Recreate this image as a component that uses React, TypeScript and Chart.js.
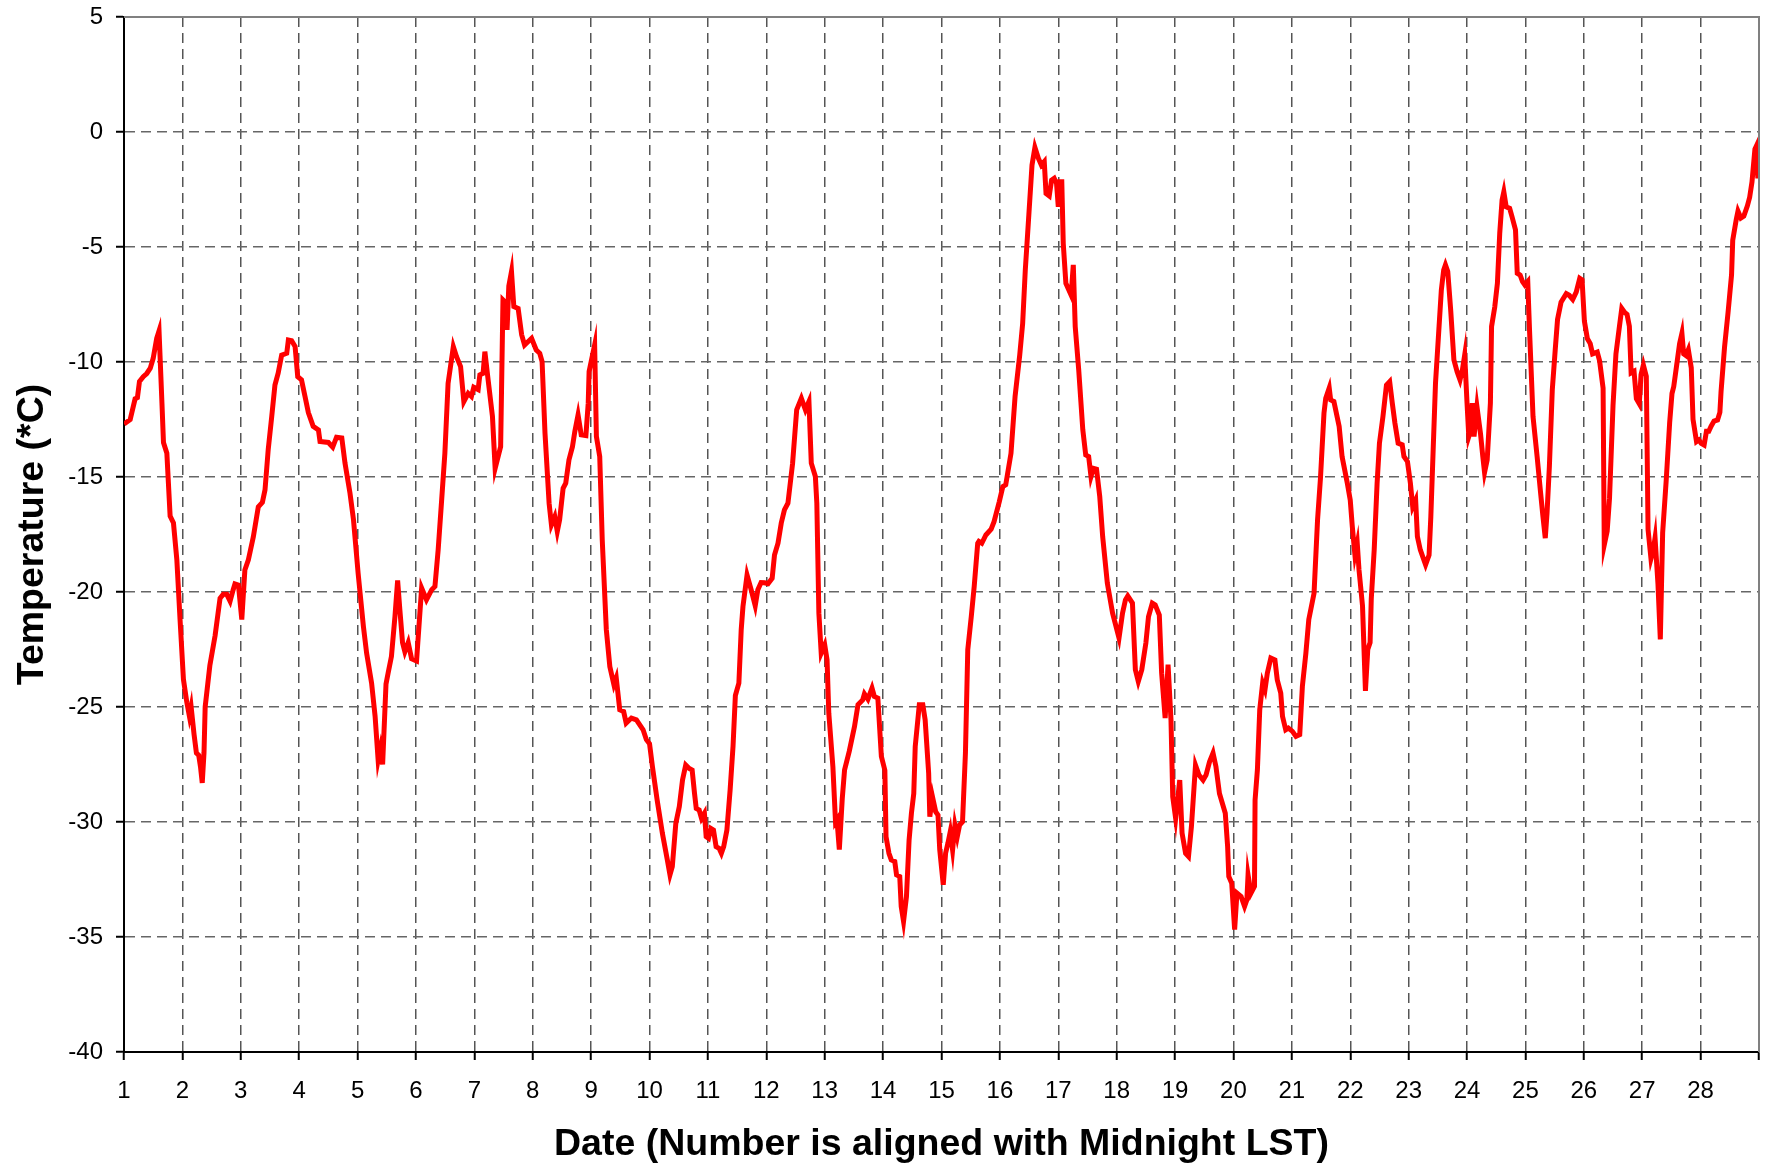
import React, { useEffect, useRef } from "react";
import { Chart, registerables } from "chart.js";

Chart.register(...registerables);

const days: number[] = [
  1.0, 1.106, 1.19, 1.23, 1.265, 1.33, 1.39, 1.45, 1.5, 1.56, 1.6, 1.65, 1.676, 1.734, 1.79, 1.847, 1.905, 1.96,
  2.018, 2.076, 2.12, 2.15, 2.2, 2.24, 2.28, 2.31, 2.34, 2.37, 2.39, 2.47, 2.56, 2.645, 2.7, 2.76, 2.817, 2.87,
  2.9, 2.96, 3.017, 3.07, 3.13, 3.215, 3.3, 3.37, 3.415, 3.47, 3.53, 3.585, 3.64, 3.7, 3.787, 3.815, 3.87, 3.93,
  3.975, 4.04, 4.1, 4.157, 4.24, 4.33, 4.357, 4.5, 4.574, 4.64, 4.73, 4.785, 4.87, 4.93, 5.01, 5.1, 5.155, 5.24,
  5.3, 5.352, 5.391, 5.429, 5.487, 5.525, 5.58, 5.64, 5.686, 5.725, 5.77, 5.81, 5.867, 5.925, 6.01, 6.097, 6.18,
  6.27, 6.325, 6.38, 6.44, 6.495, 6.55, 6.64, 6.695, 6.764, 6.82, 6.894, 6.95, 6.99, 7.065, 7.094, 7.15, 7.18,
  7.236, 7.31, 7.356, 7.45, 7.49, 7.55, 7.56, 7.59, 7.636, 7.676, 7.75, 7.81, 7.86, 7.98, 8.06, 8.12, 8.16, 8.21,
  8.28, 8.32, 8.377, 8.42, 8.46, 8.52, 8.565, 8.62, 8.68, 8.72, 8.776, 8.83, 8.91, 8.95, 8.965, 9.06, 9.09, 9.147,
  9.19, 9.26, 9.32, 9.39, 9.43, 9.49, 9.557, 9.6, 9.69, 9.775, 9.83, 9.89, 9.946, 10.0, 10.05, 10.13, 10.22,
  10.305, 10.35, 10.39, 10.45, 10.51, 10.565, 10.62, 10.68, 10.73, 10.77, 10.8, 10.85, 10.89, 10.94, 10.97, 11.01,
  11.05, 11.095, 11.14, 11.19, 11.23, 11.27, 11.325, 11.38, 11.43, 11.47, 11.53, 11.57, 11.6, 11.67, 11.74, 11.81,
  11.855, 11.91, 11.97, 12.03, 12.1, 12.14, 12.2, 12.256, 12.31, 12.37, 12.45, 12.52, 12.6, 12.67, 12.73, 12.77,
  12.84, 12.865, 12.9, 12.94, 13.0, 13.04, 13.07, 13.14, 13.185, 13.21, 13.25, 13.3, 13.34, 13.42, 13.51, 13.57,
  13.65, 13.68, 13.74, 13.81, 13.85, 13.91, 13.97, 14.03, 14.05, 14.1, 14.14, 14.2, 14.23, 14.285, 14.31, 14.35,
  14.4, 14.445, 14.485, 14.525, 14.55, 14.62, 14.68, 14.72, 14.78, 14.8, 14.845, 14.9, 14.94, 14.97, 15.03, 15.07,
  15.11, 15.15, 15.19, 15.23, 15.27, 15.31, 15.36, 15.41, 15.45, 15.51, 15.56, 15.62, 15.64, 15.69, 15.76, 15.85,
  15.9, 15.99, 16.05, 16.1, 16.19, 16.26, 16.34, 16.39, 16.435, 16.49, 16.55, 16.6, 16.66, 16.71, 16.76, 16.79,
  16.845, 16.885, 16.93, 16.97, 17.0, 17.03, 17.06, 17.085, 17.13, 17.22, 17.257, 17.29, 17.35, 17.42, 17.47,
  17.52, 17.56, 17.6, 17.655, 17.71, 17.76, 17.84, 17.93, 18.04, 18.1, 18.15, 18.19, 18.27, 18.32, 18.37, 18.43,
  18.5, 18.545, 18.61, 18.66, 18.73, 18.77, 18.83, 18.88, 18.93, 18.96, 19.01, 19.08, 19.12, 19.18, 19.23, 19.28,
  19.35, 19.41, 19.48, 19.53, 19.59, 19.65, 19.7, 19.76, 19.86, 19.9, 19.92, 19.97, 20.02, 20.06, 20.13, 20.19,
  20.23, 20.25, 20.3, 20.36, 20.37, 20.41, 20.45, 20.5, 20.54, 20.58, 20.64, 20.71, 20.75, 20.81, 20.84, 20.895,
  20.94, 21.01, 21.07, 21.135, 21.18, 21.24, 21.29, 21.38, 21.44, 21.49, 21.55, 21.58, 21.64, 21.665, 21.72, 21.81,
  21.86, 21.95, 22.0, 22.035, 22.08, 22.12, 22.15, 22.21, 22.26, 22.3, 22.34, 22.36, 22.41, 22.46, 22.5, 22.56,
  22.62, 22.675, 22.72, 22.765, 22.82, 22.89, 22.92, 22.98, 23.03, 23.07, 23.12, 23.15, 23.2, 23.29, 23.35, 23.38,
  23.42, 23.46, 23.51, 23.56, 23.6, 23.63, 23.67, 23.72, 23.775, 23.83, 23.88, 23.92, 23.96, 24.0, 24.03, 24.06,
  24.09, 24.12, 24.17, 24.23, 24.27, 24.3, 24.345, 24.4, 24.42, 24.475, 24.52, 24.56, 24.6, 24.63, 24.67, 24.73,
  24.77, 24.83, 24.86, 24.91, 24.95, 24.99, 25.04, 25.07, 25.13, 25.2, 25.26, 25.3, 25.34, 25.37, 25.41, 25.46,
  25.51, 25.55, 25.61, 25.7, 25.75, 25.81, 25.87, 25.93, 25.97, 26.01, 26.06, 26.11, 26.15, 26.23, 26.27, 26.33,
  26.35, 26.4, 26.44, 26.5, 26.55, 26.61, 26.65, 26.7, 26.74, 26.78, 26.81, 26.86, 26.9, 26.95, 26.98, 27.02,
  27.07, 27.1, 27.15, 27.19, 27.22, 27.27, 27.31, 27.35, 27.41, 27.47, 27.51, 27.54, 27.6, 27.64, 27.68, 27.71,
  27.75, 27.79, 27.84, 27.87, 27.93, 27.97, 28.01, 28.06, 28.1, 28.14, 28.18, 28.23, 28.29, 28.33, 28.35, 28.41,
  28.47, 28.53, 28.55, 28.61, 28.64, 28.69, 28.74, 28.8, 28.84, 28.88, 28.93, 28.95, 28.98,
];

const temperatures: number[] = [
  -12.7, -12.5, -11.6, -11.55, -10.85, -10.64, -10.5, -10.27, -9.84, -8.97, -8.65, -11.8, -13.5, -13.97, -16.7, -17.0, -18.6, -21.2,
  -23.8, -24.8, -25.4, -25.0, -26.2, -27.0, -27.1, -27.6, -28.3, -27.0, -25.0, -23.2, -21.9, -20.27, -20.1, -20.1, -20.4, -19.9,
  -19.65, -19.7, -21.2, -19.04, -18.6, -17.6, -16.3, -16.1, -15.56, -13.8, -12.37, -11.0, -10.49, -9.7, -9.62, -9.04, -9.07, -9.33,
  -10.64, -10.78, -11.5, -12.2, -12.8, -12.95, -13.46, -13.5, -13.7, -13.27, -13.3, -14.4, -15.7, -16.86, -19.2, -21.5, -22.66, -23.96,
  -25.4, -27.3, -26.8, -27.5, -24.0, -23.5, -22.8, -21.07, -19.5, -20.8, -22.2, -22.6, -22.2, -22.9, -23.0, -19.83, -20.34,
  -19.9, -19.76, -18.17, -16.0, -13.97, -10.93, -9.33, -9.77, -10.2, -11.72, -11.36, -11.5, -11.1, -11.2, -10.56, -10.49, -9.55,
  -10.78, -12.37, -14.62, -13.68, -7.3, -7.45, -8.6, -6.7, -6.07, -7.59, -7.67, -8.82, -9.26, -8.97, -9.48, -9.62, -9.98, -13.1,
  -16.14, -17.08, -16.72, -17.37, -16.86, -15.49, -15.27, -14.26, -13.68, -13.03, -12.3, -13.17, -13.2, -11.79, -10.42, -9.26, -13.24, -14.11,
  -17.73, -21.64, -23.24, -24.03, -23.74, -25.12, -25.2, -25.7, -25.48, -25.56, -25.77, -25.99, -26.42, -26.6, -27.6, -29.04, -30.49,
  -31.65, -32.3, -31.94, -30.06, -29.33, -28.17, -27.52, -27.67, -27.74, -28.75, -29.41, -29.48, -29.84, -29.62, -30.64, -30.71,
  -30.28, -30.35, -31.07, -31.14, -31.36, -31.07, -30.35, -28.61, -26.7, -24.5, -23.96, -21.64, -20.63, -19.26, -19.9, -20.6,
  -19.9, -19.59, -19.6, -19.64, -19.4, -18.39, -17.88, -17.0, -16.43, -16.14, -14.4, -12.08, -11.58, -12.08, -11.72, -14.4,
  -14.98, -16.14, -20.92, -22.66, -22.3, -22.95, -25.27, -27.59, -30.0, -29.9, -31.2, -29.0, -27.73, -26.93, -25.85, -24.9,
  -24.69, -24.43, -24.66, -24.18, -24.54, -24.61, -27.15, -27.75, -30.64, -31.36, -31.65, -31.72, -32.3, -32.37, -33.67, -34.32,
  -33.24, -30.78, -29.62, -28.76, -26.72, -24.9, -24.9, -25.56, -27.87, -29.77, -28.9, -29.55, -29.7, -31.21, -32.73, -31.36,
  -30.92, -30.42, -31.21, -30.13, -30.64, -30.13, -29.99, -27.0, -22.51, -21.07, -19.76, -17.88, -17.8, -17.88, -17.52, -17.27,
  -16.94, -16.07, -15.42, -15.34, -13.97, -11.5, -9.69, -8.32, -6.0, -3.83, -1.44, -0.67, -1.15, -1.44, -1.29, -2.67,
  -2.78, -2.09, -2.01, -2.23, -3.25, -2.16, -2.16, -4.84, -6.58, -7.09, -5.78, -8.46, -10.35, -12.95, -14.04,
  -14.11, -14.98, -14.62, -14.66, -15.85, -17.59, -19.62, -20.92, -22.0, -20.92, -20.34, -20.17, -20.48, -23.38, -23.89, -23.38,
  -22.22, -21.07, -20.48, -20.56, -21.0, -23.53, -25.48, -23.16, -25.56, -28.9, -29.84, -28.18, -30.49, -31.36, -31.5, -30.2,
  -27.53, -27.96, -28.18, -27.96, -27.38, -27.0, -27.59, -28.76, -29.62, -31.07, -32.37, -32.66, -34.68, -33.09, -33.24, -33.67,
  -33.38, -32.3, -33.09, -32.8, -29.05, -27.73, -25.12, -23.96, -24.25, -23.53, -22.87, -22.95, -23.82, -24.4, -25.41, -25.99,
  -25.92, -26.06, -26.28, -26.2, -24.11, -22.66, -21.2, -20.05, -16.86, -15.05, -12.23, -11.58, -11.13, -11.65, -11.72, -12.8,
  -14.11, -15.27, -16.0, -17.15, -18.39, -17.88, -19.04, -20.6, -24.3, -22.5, -22.2, -20.3, -18.17, -15.27, -13.53, -12.37,
  -11.0, -10.85, -11.79, -12.66, -13.53, -13.6, -14.11, -14.33, -15.27, -16.29, -16.0, -17.59, -18.17, -18.82, -18.39, -16.72,
  -13.82, -10.92, -8.9, -6.87, -6.0, -5.78, -6.07, -7.74, -9.91, -10.42, -10.78, -10.35, -9.69, -11.79, -13.24, -13.0,
  -11.79, -13.24, -11.94, -13.1, -14.11, -14.8, -14.26, -11.79, -8.46, -7.6, -6.58, -4.4, -2.96, -2.6, -3.25, -3.32,
  -3.68, -4.26, -6.14, -6.22, -6.5, -6.65, -6.5, -8.6, -12.37, -14.11, -15.7, -16.72, -17.66, -16.57, -14.55, -11.21,
  -9.48, -8.15, -7.4, -7.03, -7.1, -7.28, -6.96, -6.36, -6.43, -8.23, -8.98, -9.2, -9.65, -9.57, -9.95, -11.14,
  -17.95, -17.35, -15.93, -11.89, -9.65, -8.45, -7.67, -7.85, -7.93, -8.45, -10.47, -10.4, -11.6, -11.82, -10.55, -10.13,
  -10.62, -17.28, -18.55, -18.17, -17.65, -19.67, -22.06, -17.43, -15.18, -12.64, -11.37, -11.07, -9.95, -9.2, -8.75, -9.65,
  -9.72, -9.47, -10.25, -12.49, -13.46, -13.39, -13.54, -13.61, -13.01, -13.01, -12.79, -12.57, -12.52, -12.19, -11.29, -9.35,
  -7.85, -6.21, -4.71, -3.81, -3.44, -3.74, -3.66, -3.22, -2.84, -2.17, -0.75, -0.64, -2.02,
];

const yTicks: number[] = [5, 0, -5, -10, -15, -20, -25, -30, -35, -40];
const xTickLabels: string[] = [
  "1", "2", "3", "4", "5", "6", "7", "8", "9", "10", "11", "12", "13", "14",
  "15", "16", "17", "18", "19", "20", "21", "22", "23", "24", "25", "26", "27", "28",
];

const yTitle = "Temperature (*C)";
const xTitle = "Date (Number is aligned with Midnight LST)";

const FONT = "'Liberation Sans', Arial, Helvetica, sans-serif";

const frameBorder = {
  id: "frameBorder",
  afterDatasetsDraw(chart: any) {
    const { ctx, chartArea } = chart;
    ctx.save();
    ctx.strokeStyle = "#808080";
    ctx.lineWidth = 2;
    ctx.beginPath();
    ctx.moveTo(chartArea.left, chartArea.top);
    ctx.lineTo(chartArea.right, chartArea.top);
    ctx.lineTo(chartArea.right, chartArea.bottom);
    ctx.stroke();
    ctx.restore();
  },
};

export default function App() {
  const ref = useRef<HTMLCanvasElement | null>(null);

  useEffect(() => {
    if (!ref.current) return;
    const points = days.map((d, i) => ({ x: d, y: temperatures[i] }));
    const chart = new Chart(ref.current, {
      type: "line",
      data: {
        datasets: [
          {
            data: points,
            borderColor: "#FF0000",
            borderWidth: 5,
            pointRadius: 0,
            pointHoverRadius: 0,
            pointHitRadius: 0,
            tension: 0,
            fill: false,
          },
        ],
      },
      options: {
        animation: false,
        responsive: true,
        maintainAspectRatio: false,
        layout: { autoPadding: false, padding: { top: 17, right: 6, left: 0, bottom: 0 } },
        plugins: {
          legend: { display: false },
          tooltip: { enabled: false },
        },
        scales: {
          x: {
            type: "linear",
            min: 1,
            max: 29,
            afterFit: (scale: any) => {
              scale.height = 115;
              scale.paddingLeft = 0;
              scale.paddingRight = 0;
            },
            afterBuildTicks: (scale: any) => {
              scale.ticks = xTickLabels.map((l) => ({ value: Number(l) })).concat([{ value: 29 }]);
            },
            ticks: {
              autoSkip: false,
              maxRotation: 0,
              minRotation: 0,
              padding: 17,
              color: "#000",
              font: { family: FONT, size: 24 },
              callback: (v: any) => {
                const idx = xTickLabels.indexOf(String(v));
                return idx >= 0 ? xTickLabels[idx] : "";
              },
            },
            grid: {
              color: "#555",
              lineWidth: 1.5,
              tickLength: 8,
              tickColor: "#000",
              tickWidth: 2,
              tickBorderDash: [],
            },
            border: { display: true, color: "#000", width: 2, dash: [10, 6] },
            title: {
              display: true,
              text: xTitle,
              color: "#000",
              font: { family: FONT, size: 37.5, weight: "bold" },
              padding: { top: 0, bottom: 0 },
            },
          },
          y: {
            type: "linear",
            min: -40,
            max: 5,
            afterFit: (scale: any) => {
              scale.width = 124;
              scale.paddingTop = 0;
              scale.paddingBottom = 0;
            },
            afterBuildTicks: (scale: any) => {
              scale.ticks = yTicks.slice().reverse().map((v) => ({ value: v }));
            },
            ticks: {
              padding: 13,
              color: "#000",
              font: { family: FONT, size: 24 },
              callback: (v: any) => String(v),
            },
            grid: {
              color: "#666",
              lineWidth: 1.5,
              tickLength: 8,
              tickColor: "#000",
              tickWidth: 2,
              tickBorderDash: [],
            },
            border: { display: true, color: "#000", width: 2, dash: [10, 6] },
            title: {
              display: true,
              text: yTitle,
              color: "#000",
              font: { family: FONT, size: 37.5, weight: "bold" },
              padding: { top: 10.5, bottom: 0 },
            },
          },
        },
      } as any,
      plugins: [frameBorder],
    });
    return () => chart.destroy();
  }, []);

  return (
    <div style={{ position: "absolute", left: 0, top: 0, width: 1765, height: 1167, background: "#fff" }}>
      <canvas ref={ref} />
    </div>
  );
}
